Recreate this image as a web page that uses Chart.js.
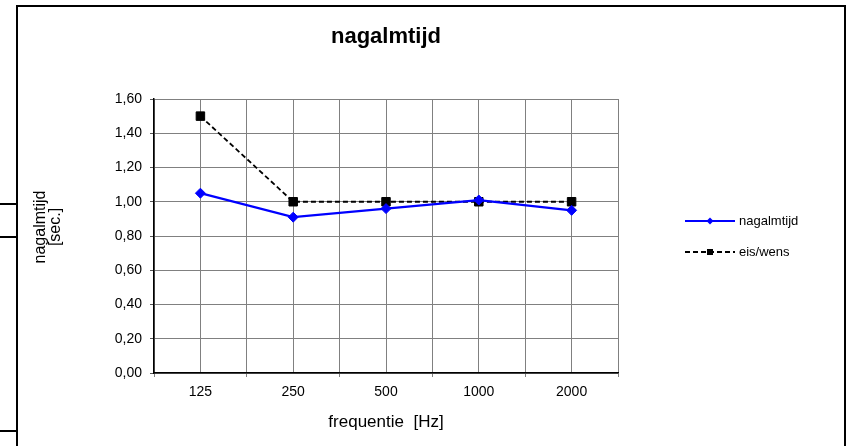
<!DOCTYPE html>
<html>
<head>
<meta charset="utf-8">
<title>nagalmtijd</title>
<script src="https://cdn.jsdelivr.net/npm/chart.js@4.4.1/dist/chart.umd.min.js"></script>
<style>
  html, body { margin: 0; padding: 0; background: #fff; overflow: hidden; }
  #wrap { position: relative; width: 848px; height: 446px; }
  #myChart { position: absolute; left: 0; top: 0; }
  .frame { position: absolute; left: 16px; top: 5px; width: 830px; height: 460px; border: 2px solid #000; box-sizing: border-box; pointer-events: none; }
  .stub { position: absolute; left: 0; width: 17px; height: 2px; background: #000; }
</style>
</head>
<body>
<div id="wrap">
  <canvas id="myChart" width="848" height="446"></canvas>
  <div class="frame"></div>
  <div class="stub" style="top:203px"></div>
  <div class="stub" style="top:236px"></div>
  <div class="stub" style="top:430px"></div>
</div>
<script>
// waarden
const frequencies = ['125', '250', '500', '1000', '2000'];
const nagalmtijd = [1.05, 0.91, 0.96, 1.01, 0.95];
const eisWens = [1.50, 1.00, 1.00, 1.00, 1.00];
const yTickLabels = ['0,00', '0,20', '0,40', '0,60', '0,80', '1,00', '1,20', '1,40', '1,60'];
const yTitleLines = ['nagalmtijd', '[sec.]'];

const FONT = 'Liberation Sans, Arial, sans-serif';
const GRID = '#808080';

function toPoints(values) {
  return values.map((v, i) => ({ x: i + 1, y: v }));
}

// legenda rechts van de grafiek, lijn met marker zoals in Excel
const sideLegend = {
  id: 'sideLegend',
  afterDraw(chart) {
    const ctx = chart.ctx;
    chart.data.datasets.forEach((ds, i) => {
      const y = 221 + i * 31;
      ctx.save();
      ctx.strokeStyle = ds.borderColor;
      ctx.lineWidth = ds.borderWidth;
      ctx.setLineDash(ds.borderDash || []);
      ctx.beginPath();
      ctx.moveTo(685, y);
      ctx.lineTo(735, y);
      ctx.stroke();
      ctx.setLineDash([]);
      ctx.fillStyle = ds.pointBackgroundColor;
      ctx.beginPath();
      if (ds.pointStyle === 'rectRot') {
        ctx.moveTo(710, y - 3.5);
        ctx.lineTo(713.5, y);
        ctx.lineTo(710, y + 3.5);
        ctx.lineTo(706.5, y);
        ctx.closePath();
      } else {
        ctx.rect(707, y - 3, 6, 6);
      }
      ctx.fill();
      ctx.fillStyle = '#000';
      ctx.font = '13px ' + FONT;
      ctx.textAlign = 'left';
      ctx.textBaseline = 'middle';
      ctx.fillText(ds.label, 739, y);
      ctx.restore();
    });
  }
};

// y-as titel, iets boven het midden van de as zoals in het origineel
const yTitle = {
  id: 'yTitle',
  afterDraw(chart) {
    const ctx = chart.ctx;
    ctx.save();
    ctx.translate(41, 227);
    ctx.rotate(-Math.PI / 2);
    ctx.fillStyle = '#000';
    ctx.font = '16px ' + FONT;
    ctx.textAlign = 'center';
    ctx.textBaseline = 'middle';
    yTitleLines.forEach((line, i) => ctx.fillText(line, 0, i * 15));
    ctx.restore();
  }
};

function initChart(canvas) {
  const data = {
    datasets: [{
      label: 'nagalmtijd',
      data: toPoints(nagalmtijd),
      borderColor: '#0000ff',
      backgroundColor: '#0000ff',
      borderWidth: 2.2,
      pointStyle: 'rectRot',
      pointRadius: 5,
      pointBorderWidth: 1,
      pointBackgroundColor: '#0000ff',
      pointBorderColor: '#0000ff',
      tension: 0
    }, {
      label: 'eis/wens',
      data: toPoints(eisWens),
      borderColor: '#000000',
      backgroundColor: '#000000',
      borderWidth: 1.8,
      borderDash: [5, 3],
      pointStyle: 'rect',
      pointRadius: 6,
      pointBorderWidth: 1,
      pointBackgroundColor: '#000000',
      pointBorderColor: '#000000',
      tension: 0
    }]
  };

  const config = {
    type: 'line',
    data: data,
    options: {
      responsive: false,
      animation: false,
      devicePixelRatio: 1,
      layout: { padding: { left: 0, top: 0, right: 230, bottom: 0 } },
      plugins: {
        legend: { display: false },
        tooltip: { enabled: false },
        title: {
          display: true,
          text: 'nagalmtijd',
          fullSize: false,
          color: '#000',
          font: { family: FONT, size: 22, weight: 'bold', lineHeight: 1.2 },
          padding: { top: 24, bottom: 48.6 }
        }
      },
      scales: {
        x: {
          type: 'linear',
          min: 0.5,
          max: 5.5,
          afterFit: (scale) => { scale.height = 73; },
          afterBuildTicks: (scale) => {
            scale.ticks = [];
            for (let v = 0.5; v <= 5.5; v += 0.5) scale.ticks.push({ value: v });
          },
          ticks: {
            autoSkip: false,
            maxRotation: 0,
            padding: 7,
            color: '#000',
            font: { family: FONT, size: 14 },
            callback: (value) => Number.isInteger(value) ? frequencies[value - 1] : ''
          },
          grid: {
            color: GRID,
            tickLength: 4,
            tickColor: (c) => Number.isInteger(c.tick && c.tick.value) ? 'rgba(0,0,0,0)' : GRID
          },
          border: { color: '#000', width: 1.5 },
          title: {
            display: true,
            text: 'frequentie  [Hz]',
            color: '#000',
            font: { family: FONT, size: 17, lineHeight: 1.2 },
            padding: { top: 0, bottom: 13 }
          }
        },
        y: {
          min: 0,
          max: 1.6,
          afterFit: (scale) => { scale.width = 154; },
          ticks: {
            stepSize: 0.2,
            padding: 8,
            color: '#000',
            font: { family: FONT, size: 14 },
            callback: (value, index) => yTickLabels[index]
          },
          grid: { color: GRID, tickLength: 4, tickColor: '#555' },
          border: { color: '#000', width: 1.5 },
          title: { display: false }
        }
      }
    },
    plugins: [sideLegend, yTitle]
  };

  return new Chart(canvas, config);
}

async function MainEvent() {
  const chartTarget = document.querySelector('#myChart');
  initChart(chartTarget);
}

document.addEventListener('DOMContentLoaded', async () => MainEvent());
</script>
</body>
</html>
